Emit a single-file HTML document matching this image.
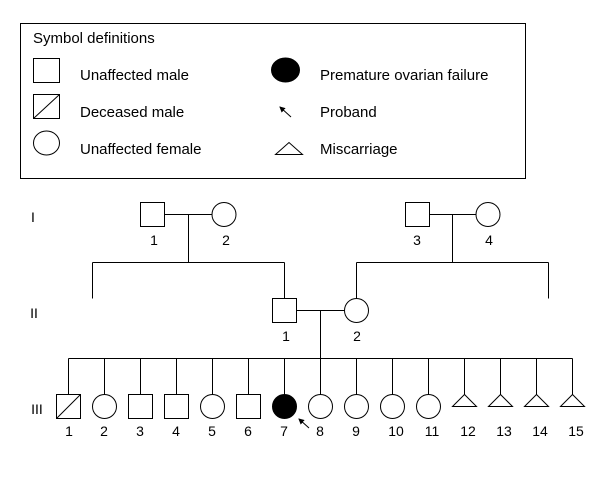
<!DOCTYPE html>
<html><head><meta charset="utf-8"><style>
html,body{margin:0;padding:0;background:#fff;}
svg{display:block;}
text{font-family:"Liberation Sans",Arial,sans-serif;fill:#000;}
</style></head><body>
<svg width="610" height="478" viewBox="0 0 610 478" xmlns="http://www.w3.org/2000/svg">
<defs><marker id="ah" markerWidth="6" markerHeight="6" refX="5" refY="3" orient="auto"><path d="M0,0 L6,3 L0,6 z" fill="#000"/></marker></defs>
<g fill="none" stroke="#000" stroke-width="1">
<rect x="20.5" y="23.5" width="505" height="155"/>
<rect x="33.5" y="58.5" width="26" height="24"/>
<rect x="33.5" y="94.5" width="26" height="24"/><line x1="33.5" y1="118.5" x2="59.5" y2="94.5"/>
<ellipse cx="46.5" cy="143" rx="13" ry="12"/>
<ellipse cx="285.5" cy="70" rx="14" ry="12" fill="#000"/>
<line x1="291" y1="117" x2="280" y2="107" marker-end="url(#ah)"/>
<polygon points="275.5,154.5 302.5,154.5 289,142.5"/>
</g>
<g font-size="15">
<text x="33" y="43">Symbol definitions</text>
<text x="80" y="80">Unaffected male</text>
<text x="80" y="117">Deceased male</text>
<text x="80" y="154">Unaffected female</text>
<text x="320" y="80">Premature ovarian failure</text>
<text x="320" y="117">Proband</text>
<text x="320" y="154">Miscarriage</text>
</g>
<g fill="none" stroke="#000" stroke-width="1">
<rect x="140.5" y="202.5" width="24" height="24"/>
<ellipse cx="224" cy="214.5" rx="12" ry="12"/>
<line x1="164.5" y1="214.5" x2="212" y2="214.5"/>
<line x1="188.5" y1="214.5" x2="188.5" y2="262.5"/>
<line x1="92.5" y1="262.5" x2="284.5" y2="262.5"/>
<line x1="92.5" y1="262.5" x2="92.5" y2="298.5"/>
<line x1="284.5" y1="262.5" x2="284.5" y2="298.5"/>
<rect x="405.5" y="202.5" width="24" height="24"/>
<ellipse cx="488" cy="214.5" rx="12" ry="12"/>
<line x1="429.5" y1="214.5" x2="476" y2="214.5"/>
<line x1="452.5" y1="214.5" x2="452.5" y2="262.5"/>
<line x1="356.5" y1="262.5" x2="548.5" y2="262.5"/>
<line x1="356.5" y1="262.5" x2="356.5" y2="298.5"/>
<line x1="548.5" y1="262.5" x2="548.5" y2="298.5"/>
<rect x="272.5" y="298.5" width="24" height="24"/>
<ellipse cx="356.5" cy="310.5" rx="12" ry="12"/>
<line x1="296.5" y1="310.5" x2="344.5" y2="310.5"/>
<line x1="320.5" y1="310.5" x2="320.5" y2="358.5"/>
<line x1="68.5" y1="358.5" x2="572.5" y2="358.5"/>
<path d="M68.5 358.5V394.5M104.5 358.5V394.5M140.5 358.5V394.5M176.5 358.5V394.5M212.5 358.5V394.5M248.5 358.5V394.5M284.5 358.5V394.5M320.5 358.5V394.5M356.5 358.5V394.5M392.5 358.5V394.5M428.5 358.5V394.5M464.5 358.5V394.5M500.5 358.5V394.5M536.5 358.5V394.5M572.5 358.5V394.5"/>
<rect x="56.5" y="394.5" width="24" height="24"/><line x1="56.5" y1="418.5" x2="80.5" y2="394.5"/>
<ellipse cx="104.5" cy="406.5" rx="12" ry="12"/>
<rect x="128.5" y="394.5" width="24" height="24"/>
<rect x="164.5" y="394.5" width="24" height="24"/>
<ellipse cx="212.5" cy="406.5" rx="12" ry="12"/>
<rect x="236.5" y="394.5" width="24" height="24"/>
<ellipse cx="284.5" cy="406.5" rx="12" ry="12" fill="#000"/>
<ellipse cx="320.5" cy="406.5" rx="12" ry="12"/>
<ellipse cx="356.5" cy="406.5" rx="12" ry="12"/>
<ellipse cx="392.5" cy="406.5" rx="12" ry="12"/>
<ellipse cx="428.5" cy="406.5" rx="12" ry="12"/>
<polygon points="452.5,406.5 476.5,406.5 464.5,394.5"/>
<polygon points="488.5,406.5 512.5,406.5 500.5,394.5"/>
<polygon points="524.5,406.5 548.5,406.5 536.5,394.5"/>
<polygon points="560.5,406.5 584.5,406.5 572.5,394.5"/>
<line x1="309" y1="428" x2="299" y2="419" marker-end="url(#ah)"/>
</g>
<g font-size="14" text-anchor="middle">
<text x="33" y="222">I</text>
<text x="154" y="245">1</text><text x="226" y="245">2</text>
<text x="417" y="245">3</text><text x="489" y="245">4</text>
<text x="34" y="318">II</text>
<text x="286" y="341">1</text><text x="357" y="341">2</text>
<text x="37" y="414">III</text>
<text x="69" y="436">1</text><text x="104" y="436">2</text><text x="140" y="436">3</text><text x="176" y="436">4</text><text x="212" y="436">5</text><text x="248" y="436">6</text><text x="284" y="436">7</text><text x="320" y="436">8</text><text x="356" y="436">9</text><text x="396" y="436">10</text><text x="432" y="436">11</text><text x="468" y="436">12</text><text x="504" y="436">13</text><text x="540" y="436">14</text><text x="576" y="436">15</text>
</g>
</svg>
</body></html>
